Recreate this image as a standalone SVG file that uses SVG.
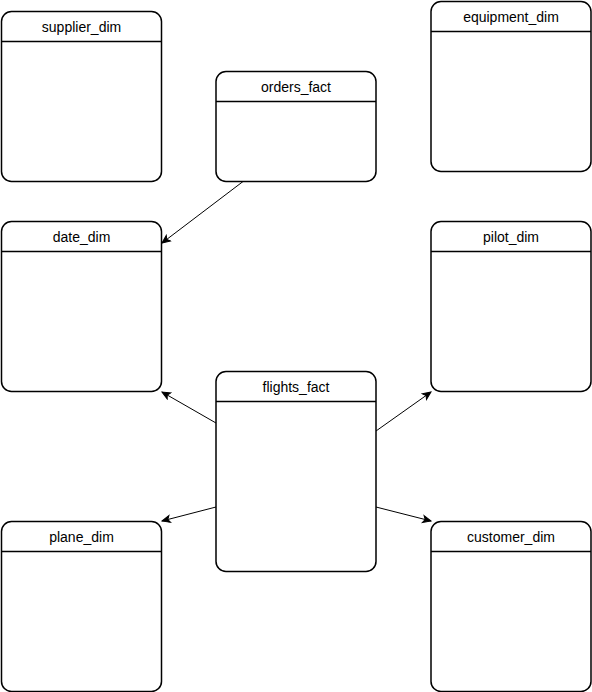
<svg xmlns="http://www.w3.org/2000/svg" width="592" height="692" viewBox="0 0 592 692">
<style>
.box{fill:#fff;stroke:#000;stroke-width:1.5}
.hd{stroke:#000;stroke-width:1.5}
.lbl{font-family:"Liberation Sans",Arial,sans-serif;font-size:14px;fill:#000;text-anchor:middle}
.edge{stroke:#000;stroke-width:1;fill:none;marker-end:url(#arr)}
</style>
<defs>
<marker id="arr" markerUnits="userSpaceOnUse" markerWidth="10" markerHeight="10" viewBox="0 0 10 10" refX="9" refY="5" orient="auto">
<path d="M1,1.5 L9,5 L1,8.5 L3,5 z" fill="#000" stroke="#000" stroke-width="1"/>
</marker>
</defs>
<rect width="592" height="692" fill="#fff"/>
<g id="connectors">
<line class="edge" x1="243" y1="181.5" x2="162" y2="243"/>
<line class="edge" x1="216" y1="423" x2="162" y2="392"/>
<line class="edge" x1="216" y1="507" x2="162" y2="521"/>
<line class="edge" x1="376" y1="431" x2="431" y2="392"/>
<line class="edge" x1="376" y1="507" x2="431" y2="521"/>
</g>
<g id="supplier_dim">
<rect class="box" x="1.5" y="11.5" width="160" height="170" rx="10"/>
<line class="hd" x1="1.5" y1="41.5" x2="161.5" y2="41.5"/>
<text class="lbl" x="81.5" y="31.5">supplier_dim</text>
</g>
<g id="orders_fact">
<rect class="box" x="216" y="71.5" width="160" height="110" rx="10"/>
<line class="hd" x1="216" y1="101.5" x2="376" y2="101.5"/>
<text class="lbl" x="296" y="91.5">orders_fact</text>
</g>
<g id="equipment_dim">
<rect class="box" x="431" y="1.5" width="160" height="170" rx="10"/>
<line class="hd" x1="431" y1="31.5" x2="591" y2="31.5"/>
<text class="lbl" x="511" y="21.5">equipment_dim</text>
</g>
<g id="date_dim">
<rect class="box" x="1.5" y="221.5" width="160" height="170" rx="10"/>
<line class="hd" x1="1.5" y1="251.5" x2="161.5" y2="251.5"/>
<text class="lbl" x="81.5" y="241.5">date_dim</text>
</g>
<g id="pilot_dim">
<rect class="box" x="431" y="221.5" width="160" height="170" rx="10"/>
<line class="hd" x1="431" y1="251.5" x2="591" y2="251.5"/>
<text class="lbl" x="511" y="241.5">pilot_dim</text>
</g>
<g id="flights_fact">
<rect class="box" x="216" y="371.5" width="160" height="200" rx="10"/>
<line class="hd" x1="216" y1="401.5" x2="376" y2="401.5"/>
<text class="lbl" x="296" y="391.5">flights_fact</text>
</g>
<g id="plane_dim">
<rect class="box" x="1.5" y="521.5" width="160" height="170" rx="10"/>
<line class="hd" x1="1.5" y1="551.5" x2="161.5" y2="551.5"/>
<text class="lbl" x="81.5" y="541.5">plane_dim</text>
</g>
<g id="customer_dim">
<rect class="box" x="431" y="521.5" width="160" height="170" rx="10"/>
<line class="hd" x1="431" y1="551.5" x2="591" y2="551.5"/>
<text class="lbl" x="511" y="541.5">customer_dim</text>
</g>
</svg>
